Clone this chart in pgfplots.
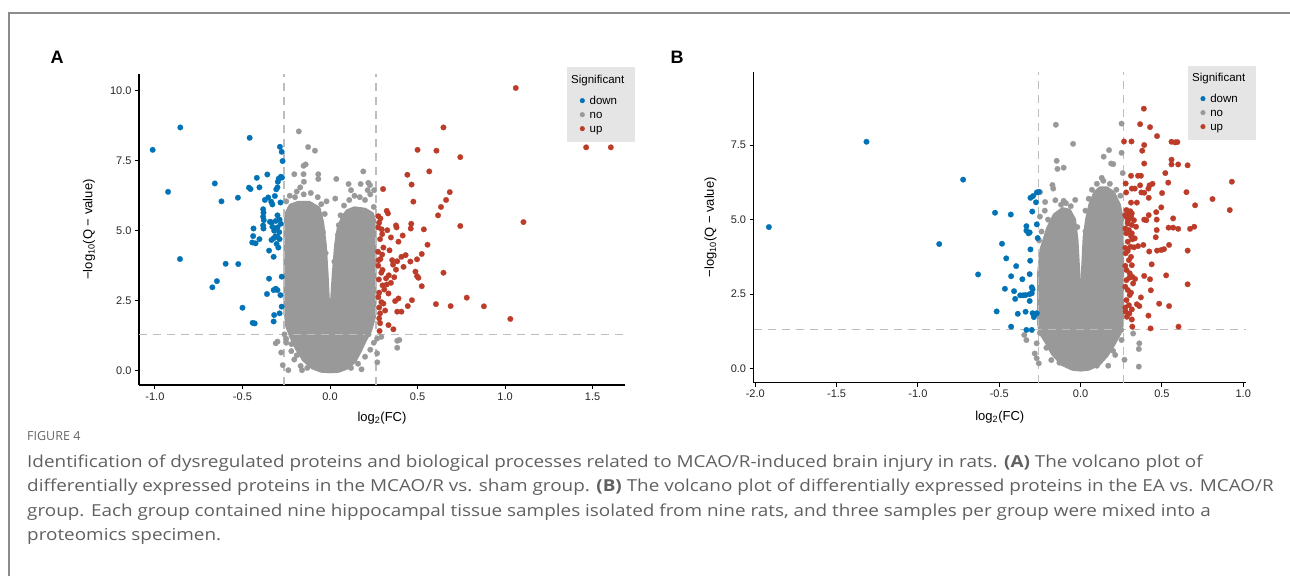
\documentclass[border=0pt]{standalone}
\usepackage{fontspec}
\setmainfont{Liberation Sans}
\newfontfamily\capfont{Open Sans}
\usepackage{pgfplots}
\pgfplotsset{compat=1.18}
\definecolor{cblue}{HTML}{0072B5}
\definecolor{cred}{HTML}{BC3C29}
\definecolor{cgray}{HTML}{999999}
\definecolor{cdash}{HTML}{BDBDBD}
\definecolor{legbg}{HTML}{E5E5E5}
\definecolor{capgray}{HTML}{606060}
\definecolor{framegray}{HTML}{8C8C8C}

\pgfplotsset{
  volcano/.style={
    scale only axis,
    axis x line*=bottom,
    axis y line*=left,
    axis line style={line width=1.1pt, black, -},
    tick align=outside,
    major tick length=4pt,
    tick style={line width=1pt, black},
    every tick label/.append style={font=\fontsize{11}{12}\selectfont, text=black!85},
    xticklabel style={/pgf/number format/.cd, fixed, fixed zerofill, precision=1, assume math mode=true},
    yticklabel style={/pgf/number format/.cd, fixed, fixed zerofill, precision=1, assume math mode=true},
    label style={font=\fontsize{13}{14}\selectfont},
    legend style={draw=none, fill=none, inner sep=0pt, row sep=6.5pt, column sep=5pt,
      font=\fontsize{11.5}{12}\selectfont,
      nodes={inner sep=0pt, text height=7.5pt, text depth=0pt}},
    legend cell align=left,
    legend image code/.code={\draw[#1] plot coordinates {(0pt,0pt)};},
  },
  pts/.style={only marks, mark=*, mark size=2.8pt, forget plot, color=#1, mark options={draw=#1, fill=#1, line width=0.2pt}},
  lmark/.style={only marks, mark=*, mark size=2.3pt, color=#1, mark options={draw=#1, fill=#1}},
  dline/.style={cdash, line width=1.2pt, dash pattern=on 8pt off 6pt, forget plot},
}

\begin{document}
\begin{tikzpicture}
\begin{scope}[x=1pt, y=1pt]
\path[use as bounding box] (0,0) rectangle (1290,576);
\draw[framegray, line width=1.8pt] (9,0) -- (9,563) -- (1290,563);
% legend backgrounds and titles
\fill[legbg] (567,434) rectangle (635,509);
\node[anchor=west, font=\fontsize{11.5}{12}\selectfont, inner sep=0pt] at (571,495) {Significant};
\fill[legbg] (1188,436) rectangle (1256,510.3);
\node[anchor=west, font=\fontsize{11.5}{12}\selectfont, inner sep=0pt] at (1192,497) {Significant};
\node[font=\fontsize{18}{18}\bfseries, inner sep=0pt] at (57,519) {A};
\node[font=\fontsize{18}{18}\bfseries, inner sep=0pt] at (677,519) {B};
\end{scope}

% ---------------- Panel A ----------------
\begin{axis}[volcano,
  at={(139pt,191pt)}, anchor=south west,
  width=486pt, height=311pt,
  xmin=-1.091, xmax=1.685, ymin=-0.51, ymax=10.6,
  xtick={-1,-0.5,0,0.5,1,1.5},
  ytick={0,2.5,5,7.5,10},
  xlabel={log\textsubscript{2}(FC)},
  ylabel={−log\textsubscript{10}(Q − value)},
  xlabel style={at={(axis description cs:0.5,0)}, anchor=center, yshift=-33pt},
  ylabel style={at={(axis description cs:-0.103,0.5)}, anchor=center},
  legend style={at={(axis description cs:0.907,0.927)}, anchor=north west},
]
\addlegendimage{lmark=cblue}
\addlegendentry{down}
\addlegendimage{lmark=cgray}
\addlegendentry{no}
\addlegendimage{lmark=cred}
\addlegendentry{up}

% dense core of the non-significant proteins
\addplot[fill=cgray, draw=cgray, line width=4pt, line join=round, forget plot] coordinates {
(0.00,-0.02) (0.05,0.00) (0.10,0.12) (0.14,0.35) (0.17,0.70) (0.20,1.10) (0.23,1.45)
(0.25,1.90) (0.255,2.50) (0.255,5.30) (0.24,5.60) (0.20,5.75) (0.14,5.80) (0.10,5.70)
(0.075,5.50) (0.05,5.10) (0.035,4.50) (0.022,3.50) (0.012,2.50) (0.004,2.00)
(-0.004,2.00) (-0.012,2.50) (-0.02,3.50) (-0.03,4.50) (-0.045,5.30) (-0.065,5.80)
(-0.12,6.00) (-0.18,6.00) (-0.225,5.90) (-0.25,5.60) (-0.255,5.00) (-0.255,2.30)
(-0.245,1.60) (-0.22,1.20) (-0.19,0.80) (-0.15,0.40) (-0.10,0.12) (-0.05,0.00) (0.00,-0.02)
} -- cycle;

\addplot[pts=cgray] coordinates {
(-0.178,8.55) (-0.125,7.99) (-0.086,7.86) (-0.151,7.32) (-0.139,7.37) (-0.204,7.02)
(-0.151,7.02) (-0.067,7.02) (-0.067,6.85) (-0.149,6.75) (0.036,6.85) (0.190,7.12)
(0.106,6.67) (0.175,6.67) (0.219,6.71) (0.228,6.63) (0.252,6.45) (-0.238,0.02)
(-0.221,0.70) (-0.279,0.65) (-0.310,0.98) (-0.300,1.04) (-0.250,1.14) (-0.168,0.17)
(-0.204,0.40) (0.384,0.82) (0.384,1.07) (0.396,1.10) (0.269,0.62) (0.269,1.15) (0.293,1.21)
(-0.23,6.25) (-0.19,6.40) (-0.15,6.30) (-0.11,6.35) (-0.07,6.20) (-0.25,6.05) (-0.20,6.20)
(0.08,5.90) (0.11,6.10) (0.14,6.25) (0.17,6.20) (0.20,6.10) (0.23,6.30) (0.25,5.85)
(0.06,5.55) (0.05,5.20) (-0.03,5.60) (-0.05,5.95) (-0.26,1.30) (-0.25,1.00) (-0.22,0.95)
(0.25,1.00) (0.23,0.75) (0.20,0.50) (0.16,0.25) (-0.13,0.10) (-0.19,0.55) (0.12,0.10) (0.22,1.30)
(0.03,6.15) (-0.02,6.05) (0.12,6.45) (-0.17,6.55) (0.215,6.45) (0.045,4.85) (-0.04,4.95)
(0.025,3.90) (-0.025,4.20) (0.27,0.30) (-0.27,0.20) (0.18,0.05) (-0.16,0.02)
};

\addplot[pts=cblue] coordinates {
(-1.013,7.89) (-0.925,6.39) (-0.855,8.69) (-0.857,3.99) (-0.672,2.98) (-0.646,3.20)
(-0.658,6.69) (-0.620,6.05) (-0.596,3.82) (-0.524,3.81) (-0.526,6.18) (-0.500,2.25)
(-0.459,8.32) (-0.463,6.54) (-0.454,6.49) (-0.437,5.08) (-0.439,4.81) (-0.444,4.58)
(-0.425,4.55) (-0.403,4.70) (-0.418,6.89) (-0.403,6.55) (-0.442,1.71) (-0.430,1.69)
(-0.358,7.01) (-0.382,5.77) (-0.380,5.65) (-0.382,5.50) (-0.378,5.38) (-0.382,5.19)
(-0.380,5.08) (-0.336,6.04) (-0.348,4.29) (-0.343,5.32) (-0.334,4.67) (-0.322,4.73)
(-0.348,3.29) (-0.360,2.74) (-0.322,4.07) (-0.322,2.88) (-0.310,2.93) (-0.322,1.76)
(-0.319,1.99) (-0.288,2.05) (-0.276,2.29) (-0.276,3.36) (-0.283,2.70) (-0.300,2.88)
(-0.315,6.24) (-0.307,6.48) (-0.300,6.55) (-0.298,6.75) (-0.293,6.86) (-0.281,6.93)
(-0.274,6.90) (-0.286,8.00) (-0.276,7.82) (-0.271,7.49) (-0.283,6.01) (-0.300,5.55)
(-0.288,5.40) (-0.300,5.12) (-0.312,4.80) (-0.300,4.78) (-0.288,4.70) (-0.305,4.53)
(-0.281,5.25) (-0.329,5.94) (-0.319,5.00) (-0.329,5.14) (-0.334,5.30) (-0.372,6.10)
(-0.353,6.19) (-0.290,4.95) (-0.310,5.35) (-0.295,4.40)
};

\addplot[pts=cred] coordinates {
(1.061,10.10) (1.463,7.98) (1.604,7.98) (1.105,5.31) (1.030,1.85) (0.879,2.30)
(0.781,2.61) (0.689,2.31) (0.605,2.38) (0.648,3.50) (0.744,5.17) (0.744,7.63)
(0.648,8.69) (0.608,7.86) (0.500,7.89) (0.567,7.12) (0.442,7.00) (0.466,6.65)
(0.476,6.04) (0.684,6.38) (0.663,6.10) (0.634,5.85) (0.617,5.55) (0.536,5.05)
(0.557,4.50) (0.524,4.17) (0.497,3.98) (0.459,3.90) (0.488,3.54) (0.497,3.38)
(0.505,3.32) (0.524,3.02) (0.468,2.52) (0.444,2.31) (0.464,5.25) (0.461,5.08)
(0.432,4.13) (0.408,4.07) (0.420,3.71) (0.415,4.83) (0.391,4.61) (0.377,5.19)
(0.380,5.12) (0.324,5.71) (0.331,5.62) (0.303,6.49) (0.276,5.52) (0.288,5.44)
(0.281,5.29) (0.327,5.02) (0.348,4.76) (0.384,3.91) (0.360,3.79) (0.377,3.61)
(0.336,3.41) (0.367,3.34) (0.348,3.14) (0.324,3.08) (0.286,4.70) (0.298,4.88)
(0.276,5.12) (0.274,4.25) (0.288,3.99) (0.276,3.75) (0.293,3.50) (0.279,3.26)
(0.300,3.05) (0.281,2.79) (0.276,2.63) (0.293,2.45) (0.281,2.26) (0.286,2.05)
(0.281,1.87) (0.286,1.70) (0.391,2.58) (0.384,2.11) (0.408,2.11) (0.334,1.63)
(0.362,1.48) (0.283,1.42) (0.372,2.49) (0.334,2.76) (0.310,2.90) (0.305,2.40)
(0.315,2.15) (0.300,3.60) (0.305,4.40) (0.340,4.30) (0.355,3.95) (0.298,4.15)
(0.278,3.95) (0.295,5.05) (0.320,3.30)
};

\addplot[dline] coordinates {(-0.263,-0.51) (-0.263,10.6)};
\addplot[dline] coordinates {(0.263,-0.51) (0.263,10.6)};
\addplot[dline] coordinates {(-1.091,1.301) (1.685,1.301)};
\end{axis}

% ---------------- Panel B ----------------
\begin{axis}[volcano,
  at={(753.6pt,193.3pt)}, anchor=south west,
  width=492.4pt, height=310.7pt,
  xmin=-2.01, xmax=1.017, ymin=-0.47, ymax=9.95,
  xtick={-2,-1.5,-1,-0.5,0,0.5,1},
  ytick={0,2.5,5,7.5},
  xlabel={log\textsubscript{2}(FC)},
  ylabel={−log\textsubscript{10}(Q − value)},
  xlabel style={at={(axis description cs:0.5,0)}, anchor=center, yshift=-34pt},
  ylabel style={at={(axis description cs:-0.0873,0.5)}, anchor=center},
  legend style={at={(axis description cs:0.9075,0.927)}, anchor=north west},
]
\addlegendimage{lmark=cblue}
\addlegendentry{down}
\addlegendimage{lmark=cgray}
\addlegendentry{no}
\addlegendimage{lmark=cred}
\addlegendentry{up}

\addplot[fill=cgray, draw=cgray, line width=4pt, line join=round, forget plot] coordinates {
(0.00,-0.03) (0.05,0.00) (0.11,0.15) (0.16,0.45) (0.20,0.80) (0.24,1.20) (0.255,1.60)
(0.255,5.00) (0.235,5.50) (0.20,5.90) (0.16,6.05) (0.12,6.05) (0.09,5.90) (0.06,5.50)
(0.04,5.00) (0.025,4.40) (0.015,3.30) (0.008,2.20) (0.003,1.40)
(-0.003,1.40) (-0.008,2.20) (-0.015,3.30) (-0.025,4.30) (-0.04,5.00) (-0.07,5.30)
(-0.11,5.35) (-0.16,5.15) (-0.20,4.70) (-0.24,4.00) (-0.255,3.20) (-0.255,1.50)
(-0.245,1.20) (-0.21,0.90) (-0.17,0.50) (-0.11,0.15) (-0.05,0.00) (0.00,-0.03)
} -- cycle;

\addplot[pts=cgray] coordinates {
(-0.152,8.18) (-0.046,7.54) (0.252,8.22) (-0.147,6.97) (-0.142,6.70) (-0.104,6.74)
(0.252,7.24) (0.142,7.11) (0.175,7.33) (0.188,6.88) (0.201,6.86) (0.259,6.56)
(-0.173,6.16) (-0.168,6.04) (-0.249,5.92) (-0.218,5.59) (-0.155,5.65) (-0.104,5.63)
(-0.033,5.66) (-0.257,0.18) (-0.180,0.29) (0.358,0.07) (0.358,0.66) (0.361,0.85)
(0.323,1.18) (-0.346,1.13) (-0.333,0.96) (-0.282,0.51) (-0.270,0.85) (0.155,0.51)
(0.213,0.46) (0.252,0.96)
(-0.24,4.60) (-0.25,5.10) (-0.22,5.30) (-0.20,5.00) (-0.255,4.30) (0.10,6.20) (0.14,6.30)
(0.18,6.20) (0.22,6.00) (0.245,5.80) (0.07,6.00) (0.05,5.70) (-0.09,5.55) (-0.12,5.50)
(0.03,5.30) (0.25,1.30) (-0.25,1.20) (0.20,0.60) (-0.21,0.70) (0.10,0.10) (-0.13,0.20)
(-0.06,5.45) (0.03,4.60) (-0.02,4.75) (0.13,6.40) (0.27,0.30) (-0.27,0.35) (0.17,0.10)
};

\addplot[pts=cblue] coordinates {
(-1.916,4.75) (-1.316,7.61) (-0.869,4.18) (-0.722,6.34) (-0.630,3.16) (-0.526,5.23)
(-0.429,5.17) (-0.483,4.19) (-0.457,3.70) (-0.396,3.44) (-0.427,3.10) (-0.358,3.00)
(-0.465,2.68) (-0.409,2.60) (-0.371,2.46) (-0.353,2.46) (-0.338,2.47) (-0.402,2.34)
(-0.313,2.27) (-0.300,2.73) (-0.295,2.66) (-0.300,2.53) (-0.313,2.50) (-0.313,3.17)
(-0.310,3.62) (-0.308,4.00) (-0.333,4.78) (-0.333,4.63) (-0.320,4.54) (-0.313,4.57)
(-0.297,5.27) (-0.308,5.73) (-0.292,5.79) (-0.269,5.91) (-0.257,5.93) (-0.274,5.58)
(-0.264,4.38) (-0.269,4.84) (-0.516,1.92) (-0.427,1.41) (-0.386,1.84) (-0.338,1.91)
(-0.295,1.86) (-0.282,1.81) (-0.269,1.86) (-0.287,1.73) (-0.300,1.30) (-0.333,1.30)
};

\addplot[pts=cred] coordinates {
(0.389,8.72) (0.366,8.20) (0.427,8.10) (0.470,7.80) (0.267,7.62) (0.313,7.62)
(0.559,7.61) (0.582,7.59) (0.595,7.60) (0.391,7.50) (0.379,7.31) (0.391,6.88)
(0.559,7.01) (0.559,6.85) (0.600,6.85) (0.658,6.82) (0.521,6.56) (0.310,6.47)
(0.353,6.47) (0.371,6.47) (0.539,6.24) (0.442,6.20) (0.424,6.15) (0.366,6.15)
(0.315,6.04) (0.333,6.04) (0.277,6.21) (0.280,5.91) (0.374,5.91) (0.391,5.90)
(0.417,6.04) (0.501,5.89) (0.651,5.92) (0.811,5.69) (0.930,6.27) (0.917,5.32)
(0.704,5.48) (0.419,5.73) (0.310,5.57) (0.346,5.57) (0.496,5.41) (0.465,5.25)
(0.569,5.04) (0.391,5.00) (0.404,4.98) (0.468,5.00) (0.419,5.15) (0.541,4.73)
(0.569,4.73) (0.600,4.69) (0.468,4.65) (0.673,4.69) (0.699,4.76) (0.462,4.41)
(0.544,4.15) (0.513,4.01) (0.496,3.98) (0.470,3.96) (0.422,3.93) (0.658,3.96)
(0.386,4.15) (0.353,4.11) (0.328,4.07) (0.307,4.09) (0.318,4.34) (0.437,3.50)
(0.526,3.13) (0.658,2.83) (0.432,2.63) (0.391,3.11) (0.427,3.00) (0.335,3.01)
(0.318,3.08) (0.371,2.39) (0.483,2.18) (0.544,2.10) (0.346,2.16) (0.361,2.10)
(0.315,1.99) (0.417,1.78) (0.315,1.65) (0.318,1.41) (0.430,1.35) (0.602,1.41)
(0.282,5.32) (0.297,5.23) (0.315,5.21) (0.282,5.09) (0.302,5.04) (0.328,4.98)
(0.290,4.87) (0.315,4.82) (0.341,4.76) (0.297,4.65) (0.282,4.54) (0.315,4.54)
(0.333,4.37) (0.290,4.26) (0.277,3.87) (0.297,3.64) (0.315,3.47) (0.282,3.31)
(0.302,3.20) (0.282,2.97) (0.323,2.86) (0.290,2.64) (0.302,2.47) (0.282,2.30)
(0.297,2.13) (0.277,1.91) (0.285,1.74) (0.275,5.15) (0.305,5.28) (0.290,4.95)
(0.275,4.70) (0.310,4.45) (0.275,4.05) (0.290,3.95) (0.310,3.75) (0.275,3.45)
(0.300,3.05) (0.275,2.75) (0.310,2.55) (0.275,2.05) (0.300,1.85) (0.310,5.10)
};

\addplot[dline] coordinates {(-0.259,-0.47) (-0.259,9.95)};
\addplot[dline] coordinates {(0.263,-0.47) (0.263,9.95)};
\addplot[dline] coordinates {(-2.01,1.301) (1.017,1.301)};
\end{axis}

% ---------------- caption ----------------
\begin{scope}[x=1pt, y=1pt]
\node[anchor=west, inner sep=0pt, font=\capfont\fontsize{12.5}{12.5}\selectfont, text=black!60] at (27,140) {FIGURE 4};
\node[anchor=west, inner sep=0pt, text=capgray, font=\capfont\fontsize{16.5}{16.5}\selectfont] at (27,113) {\scalebox{1.145}[1]{Identification of dysregulated proteins and biological processes related to MCAO/R-induced brain injury in rats. \textbf{(A)} The volcano plot of}};
\node[anchor=west, inner sep=0pt, text=capgray, font=\capfont\fontsize{16.5}{16.5}\selectfont] at (27,88.5) {\scalebox{1.145}[1]{differentially expressed proteins in the MCAO/R vs. sham group. \textbf{(B)} The volcano plot of differentially expressed proteins in the EA vs. MCAO/R}};
\node[anchor=west, inner sep=0pt, text=capgray, font=\capfont\fontsize{16.5}{16.5}\selectfont] at (27,64) {\scalebox{1.145}[1]{group. Each group contained nine hippocampal tissue samples isolated from nine rats, and three samples per group were mixed into a}};
\node[anchor=west, inner sep=0pt, text=capgray, font=\capfont\fontsize{16.5}{16.5}\selectfont] at (27,39.5) {\scalebox{1.145}[1]{proteomics specimen.}};
\end{scope}
\end{tikzpicture}
\end{document}
